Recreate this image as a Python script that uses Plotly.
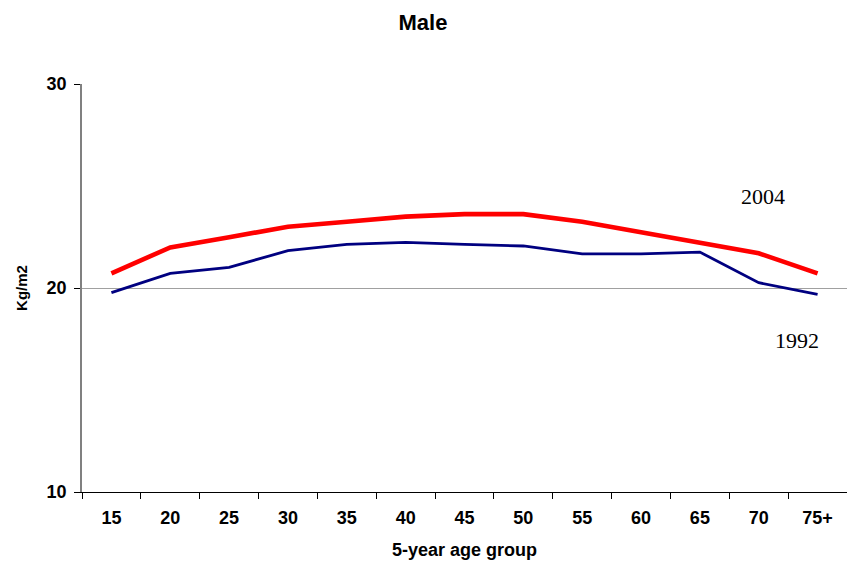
import plotly.graph_objects as go

# Mean BMI (kg/m2) of males by 5-year age group
age_groups = ["15", "20", "25", "30", "35", "40", "45", "50", "55", "60", "65", "70", "75+"]
bmi_2004 = [20.72, 21.99, 22.49, 23.00, 23.25, 23.50, 23.62, 23.62, 23.25, 22.73, 22.19, 21.70, 20.72]
bmi_1992 = [19.77, 20.72, 21.01, 21.83, 22.14, 22.24, 22.14, 22.06, 21.67, 21.67, 21.76, 20.26, 19.69]
y_ticks = [10, 20, 30]

W, H = 847, 573
ML, MR, MT, MB = 82, 0, 84, 81

bold = dict(family="Liberation Sans, Arial, sans-serif", color="black", weight="bold")

fig = go.Figure()
fig.add_trace(go.Scatter(x=age_groups, y=bmi_1992, mode="lines", name="1992",
                         line=dict(color="#000080", width=2.8)))
fig.add_trace(go.Scatter(x=age_groups, y=bmi_2004, mode="lines", name="2004",
                         line=dict(color="#FF0000", width=4.6)))

fig.update_layout(
    width=W, height=H,
    margin=dict(l=ML, r=MR, t=MT, b=MB),
    paper_bgcolor="white", plot_bgcolor="white",
    showlegend=False,
    title=dict(text="Male", x=423 / W, xanchor="center",
               y=1 - 22 / H, yanchor="middle", yref="container",
               font=dict(size=22, **bold)),
)

fig.update_xaxes(
    type="category", range=[-0.5, len(age_groups) - 0.5],
    tickson="boundaries", ticks="outside", ticklen=6, tickcolor="black",
    ticklabelstandoff=9,
    showline=True, linecolor="black", linewidth=1,
    showgrid=False, zeroline=False,
    tickfont=dict(size=18, **bold),
    title=dict(text="5-year age group", font=dict(size=18, **bold), standoff=16),
)
fig.update_yaxes(
    range=[10, 30], tickvals=y_ticks, ticktext=[str(v) for v in y_ticks],
    ticks="outside", ticklen=6, tickcolor="black",
    ticklabelstandoff=4,
    showline=True, linecolor="#808080", linewidth=1.5,
    showgrid=True, gridcolor="#A0A0A0", gridwidth=1, zeroline=False,
    tickfont=dict(size=18, **bold),
    title=dict(text="Kg/m2", font=dict(size=15, **bold), standoff=15),
)

serif = dict(family="Liberation Serif, Times New Roman, serif", size=22, color="black")
fig.add_annotation(text="2004", xref="paper", yref="paper",
                   x=(763 - ML) / (W - ML - MR), y=(H - MB - 196) / (H - MT - MB),
                   xanchor="center", yanchor="middle", showarrow=False, font=serif)
fig.add_annotation(text="1992", xref="paper", yref="paper",
                   x=(797 - ML) / (W - ML - MR), y=(H - MB - 340) / (H - MT - MB),
                   xanchor="center", yanchor="middle", showarrow=False, font=serif)

fig.write_html("out.html")
